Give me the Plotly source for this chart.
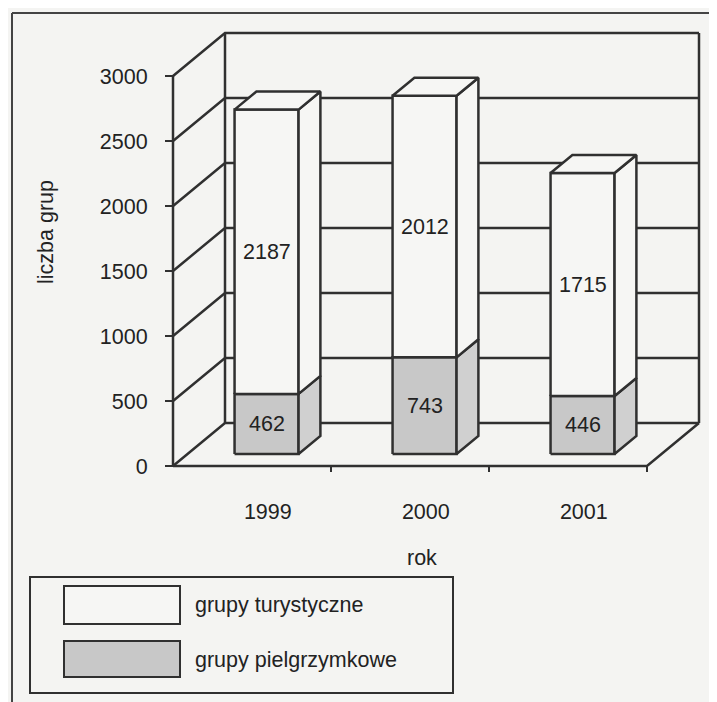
import plotly.graph_objects as go

# ---------------- data ----------------
years = ["1999", "2000", "2001"]
turystyczne = [2187, 2012, 1715]
pielgrzymkowe = [462, 743, 446]
y_ticks = [0, 500, 1000, 1500, 2000, 2500, 3000]
series_names = ["grupy turystyczne", "grupy pielgrzymkowe"]
x_title = "rok"
y_title = "liczba grup"

# ---------------- geometry / style ----------------
OFF = 8                       # page body margin of the browser
W, H = 717 - OFF, 702 - OFF
# reference pixel layout (plot area in reference-window px)
REF_L, REF_R, REF_T, REF_B = 157, 710, 24, 479
ML, MT = REF_L - OFF, REF_T - OFF
MR, MB = W - (REF_R - OFF), H - (REF_B - OFF)
PX_X = 158.0          # pixels per category
PX_Y = 0.13           # pixels per unit
XMIN = -16 / PX_X
XMAX = XMIN + (REF_R - REF_L) / PX_X
YMIN = -13 / PX_Y
YMAX = YMIN + (REF_B - REF_T) / PX_Y
DX = 52 / PX_X        # depth offset (x, data units)
DY = 43 / PX_Y        # depth offset (y, data units)
BW = 64 / PX_X        # bar width
F0, F1 = 0.28, 0.70   # bar depth span (fraction of depth)
YTOP = max(y_ticks)

LINE = "#303030"
BG = "#f4f4f2"
WHITE = "#f6f6f4"
GRAY = "#c8c8c8"
GRAY_SIDE = "#d0d0d0"
FONT = "Liberation Sans, Arial"
FS = 21.5
TXT = "#222222"

fig = go.Figure()


def poly(xs, ys, fill=None, width=2.5):
    fig.add_trace(go.Scatter(
        x=list(xs) + ([xs[0]] if fill else []),
        y=list(ys) + ([ys[0]] if fill else []),
        mode="lines",
        line=dict(color=LINE, width=width),
        fill="toself" if fill else None,
        fillcolor=fill,
        hoverinfo="skip",
        showlegend=False,
    ))


ncat = len(years)
# back wall gridlines + left wall diagonals
for v in y_ticks:
    poly([0, DX, ncat + DX], [v, v + DY, v + DY])
# back wall verticals
poly([DX, DX], [DY, YTOP + DY])
poly([ncat + DX, ncat + DX], [DY, YTOP + DY])
# floor
poly([0, ncat, ncat + DX], [0, 0, DY])
# front value axis
poly([0, 0], [0, YTOP])

# bars
bdx = (F1 - F0) * DX
bdy = (F1 - F0) * DY
for i, (t, p) in enumerate(zip(turystyczne, pielgrzymkowe)):
    c = i + 0.5
    xl = c - BW / 2 + F0 * DX
    xr = xl + BW
    y0 = F0 * DY
    segs = [(y0, y0 + p, GRAY, GRAY_SIDE, p), (y0 + p, y0 + p + t, WHITE, WHITE, t)]
    for k, (yb, yt, fc, sc, val) in enumerate(segs):
        poly([xl, xr, xr, xl], [yb, yb, yt, yt], fill=fc)
        poly([xr, xr + bdx, xr + bdx, xr], [yb, yb + bdy, yt + bdy, yt], fill=sc)
        if k == len(segs) - 1:
            poly([xl, xl + bdx, xr + bdx, xr], [yt, yt + bdy, yt + bdy, yt], fill=fc)
        fig.add_annotation(x=(xl + xr) / 2, y=(yb + yt) / 2, text=str(val),
                           showarrow=False, xref="x", yref="y",
                           xanchor="center", yanchor="middle",
                           font=dict(family=FONT, size=FS, color=TXT))


def px(xp):
    return (xp - REF_L) / (REF_R - REF_L)


def py(yp):
    return (REF_B - yp) / (REF_B - REF_T)


def label(x, y, text, **kw):
    args = dict(xanchor="center", yanchor="middle")
    args.update(kw)
    fig.add_annotation(x=px(x), y=py(y), xref="paper", yref="paper", text=text,
                       showarrow=False, font=dict(family=FONT, size=FS, color=TXT), **args)


# axis titles
label(422, 558, x_title)
label(46, 232, y_title, textangle=-90)

shapes = []
# outer frame (left & top visible)
shapes.append(dict(type="line", xref="paper", yref="paper", x0=px(12), y0=py(13), x1=px(12), y1=py(720),
                   line=dict(color="#444", width=2)))
shapes.append(dict(type="line", xref="paper", yref="paper", x0=px(12), y0=py(13), x1=px(730), y1=py(13),
                   line=dict(color="#444", width=2)))
# legend
shapes.append(dict(type="rect", xref="paper", yref="paper", x0=px(30), y0=py(577), x1=px(453), y1=py(693),
                   line=dict(color=LINE, width=2), fillcolor=BG))
shapes.append(dict(type="rect", xref="paper", yref="paper", x0=px(64), y0=py(586), x1=px(180), y1=py(624),
                   line=dict(color=LINE, width=2), fillcolor=WHITE))
shapes.append(dict(type="rect", xref="paper", yref="paper", x0=px(64), y0=py(641), x1=px(180), y1=py(677),
                   line=dict(color=LINE, width=2), fillcolor=GRAY))
label(193, 605, series_names[0], xanchor="left")
label(193, 660, series_names[1], xanchor="left")

fig.update_layout(
    width=W, height=H,
    margin=dict(l=ML, r=MR, t=MT, b=MB, pad=0),
    paper_bgcolor=BG, plot_bgcolor="rgba(0,0,0,0)",
    shapes=shapes,
    showlegend=False,
    xaxis=dict(range=[XMIN, XMAX], showgrid=False, zeroline=False, showline=False,
               anchor="free", position=py(466),
               tickvals=[i + 0.6 for i in range(ncat)], ticktext=years, ticks="",
               ticklabelstandoff=30,
               tickfont=dict(family=FONT, size=FS, color=TXT),
               minor=dict(tickvals=list(range(1, ncat + 1)), ticks="outside", ticklen=5,
                          tickwidth=2, tickcolor=LINE, showgrid=False)),
    yaxis=dict(range=[YMIN, YMAX], showgrid=False, zeroline=False, showline=False,
               anchor="free", position=px(173),
               tickvals=y_ticks, ticktext=[str(v) for v in y_ticks],
               ticks="outside", ticklen=8, tickwidth=2, tickcolor=LINE,
               ticklabelstandoff=13,
               tickfont=dict(family=FONT, size=FS, color=TXT)),
)

fig.write_html("out.html")
